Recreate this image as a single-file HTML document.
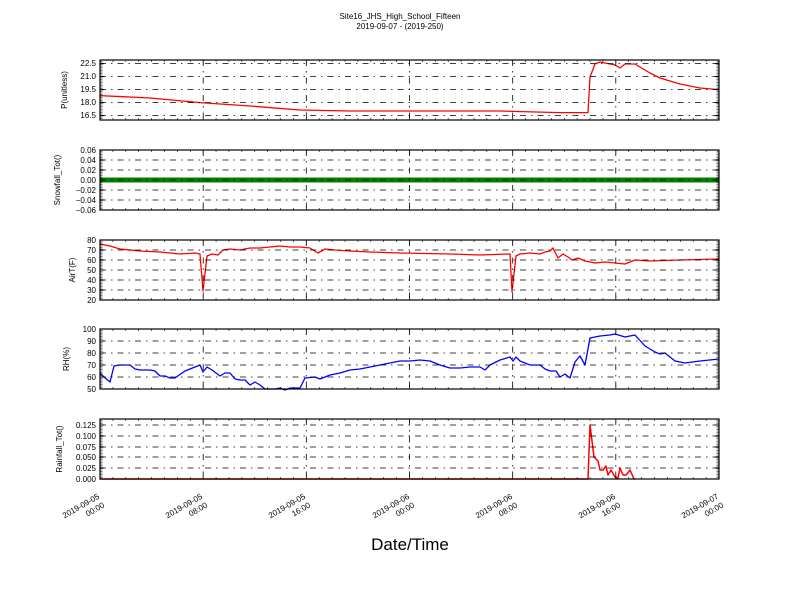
<!DOCTYPE html>
<html><head><meta charset="utf-8"><style>
html,body{margin:0;padding:0;background:#fff;}
svg{display:block;font-family:"Liberation Sans",sans-serif;}
</style></head><body>
<svg id="s" width="800" height="600" viewBox="0 0 800 600" xmlns="http://www.w3.org/2000/svg">
<rect width="800" height="600" fill="#fff"/>
<text x="400" y="19" font-size="8" text-anchor="middle">Site16_JHS_High_School_Fifteen</text>
<text x="400" y="29" font-size="8" text-anchor="middle">2019-09-07 - (2019-250)</text>
<g fill="none" stroke-width="1.3" stroke-linejoin="round">
<polyline stroke="#f00" points="100,95.6 150,98 200,102.6 250,106 300,110 350,111 400,111 500,111 560,112.6 588,112.6 590,77 595,64 600,62 615,65 620,68 625,64 635,64 650,73 660,78 680,84 700,88 719,89.6"/>
<line x1="100" y1="180" x2="719" y2="180" stroke="#007f00" stroke-width="5"/>
<polyline stroke="#f00" points="100,244 110,246 120,249 140,251 160,252 180,254 195,253 200,254 203,291 207,256 212,254 218,255 223,250 230,249 240,250 250,248 260,248 270,247 280,246 290,247 300,247 310,248 318,253 325,249 335,250 350,251 370,252 400,253 450,254 480,255 510,254 512,292 516,256 520,254 530,253 540,254 545,252 550,251 553,248 558,258 563,254 568,257 572,260 578,258 585,261 595,263 605,262 615,263 625,264 635,260 650,261 680,260 719,259"/>
<polyline stroke="#00f" points="100,373 104,377 110,382 114,366 120,365 130,365 135,369 140,370 150,370 155,371 160,376 165,376 170,378 175,378 185,371 195,367 200,365 203,372 207,367 212,370 220,376 225,373 230,373 235,379 240,380 245,380 250,385 255,382 260,385 265,389 275,389 280,388 285,390 290,388 300,388 305,378 315,377 320,379 330,375 340,373 350,370 360,369 370,367 380,365 390,363 400,361 410,361 420,360 430,361 440,365 450,368 460,368 470,367 480,367 485,370 490,365 500,360 510,357 513,361 516,357 520,361 530,365 540,365 545,369 550,371 556,371 560,377 565,374 570,378 575,362 580,356 585,365 590,338 600,336 610,335 615,334 625,337 635,335 645,346 655,352 660,354 665,353 675,361 685,363 700,361 719,359"/>
<polyline stroke="#f00" stroke-width="1.5" points="100,479 588,479 590,425 594,457 598,461 600,470 603,470 606,466 608,475 611,470 615,477 618,478 620,468 623,475 626,475 630,470 634,479 635,479"/>
</g>
<g id="grid"></g>
<g font-size="8" text-anchor="end">
<text x="96" y="66">22.5</text><text x="96" y="79">21.0</text><text x="96" y="92">19.5</text><text x="96" y="105">18.0</text><text x="96" y="118">16.5</text>
<text x="96" y="153">0.06</text><text x="96" y="163">0.04</text><text x="96" y="173">0.02</text><text x="96" y="183">0.00</text><text x="96" y="193">−0.02</text><text x="96" y="203">−0.04</text><text x="96" y="213">−0.06</text>
<text x="96" y="243">80</text><text x="96" y="253">70</text><text x="96" y="263">60</text><text x="96" y="273">50</text><text x="96" y="283">40</text><text x="96" y="293">30</text><text x="96" y="303">20</text>
<text x="96" y="332">100</text><text x="96" y="344">90</text><text x="96" y="356">80</text><text x="96" y="368">70</text><text x="96" y="380">60</text><text x="96" y="392">50</text>
<text x="96" y="428">0.125</text><text x="96" y="439">0.100</text><text x="96" y="450">0.075</text><text x="96" y="460">0.050</text><text x="96" y="471">0.025</text><text x="96" y="482">0.000</text>
</g>
<g font-size="8" text-anchor="middle">
<text transform="translate(67,90) rotate(-90)">P(unitless)</text>
<text transform="translate(60,180) rotate(-90)">Snowfall_Tot()</text>
<text transform="translate(75,270) rotate(-90)">AirT(F)</text>
<text transform="translate(69,359) rotate(-90)">RH(%)</text>
<text transform="translate(62,449) rotate(-90)">Rainfall_Tot()</text>
</g>
<g font-size="8" text-anchor="end">
<g transform="translate(100,498) rotate(-30)"><text x="0" y="0">2019-09-05</text><text x="0" y="10">00:00</text></g>
<g transform="translate(203,498) rotate(-30)"><text x="0" y="0">2019-09-05</text><text x="0" y="10">08:00</text></g>
<g transform="translate(306,498) rotate(-30)"><text x="0" y="0">2019-09-05</text><text x="0" y="10">16:00</text></g>
<g transform="translate(410,498) rotate(-30)"><text x="0" y="0">2019-09-06</text><text x="0" y="10">00:00</text></g>
<g transform="translate(513,498) rotate(-30)"><text x="0" y="0">2019-09-06</text><text x="0" y="10">08:00</text></g>
<g transform="translate(616,498) rotate(-30)"><text x="0" y="0">2019-09-06</text><text x="0" y="10">16:00</text></g>
<g transform="translate(719,498) rotate(-30)"><text x="0" y="0">2019-09-07</text><text x="0" y="10">00:00</text></g>
</g>
<text x="410" y="550" font-size="17" text-anchor="middle">Date/Time</text>
</svg>
<script>
(function(){
var g=document.getElementById('grid'),h='';
var panels=[[60,120,[63.6,76.6,89.6,102.6,115.6]],[150,210,[150,160,170,180,190,200,210]],[240,300,[240,250,260,270,280,290,300]],[329,389,[329,341,353,365,377,389]],[419,479,[425,436,447,457,468,479]]];
var X0=100,X1=719,majors=[100,203.2,306.3,409.5,512.7,615.8,719];
var da='6 5 1.5 5';
panels.forEach(function(p){
 var t=p[0],b=p[1];
 p[2].forEach(function(y){h+='<line x1="'+X0+'" x2="'+X1+'" y1="'+y+'" y2="'+y+'" stroke="#000" stroke-width="0.8" stroke-dasharray="'+da+'"/>';
  h+='<line x1="'+X0+'" x2="'+(X0+4)+'" y1="'+y+'" y2="'+y+'" stroke="#000"/><line x1="'+(X1-4)+'" x2="'+X1+'" y1="'+y+'" y2="'+y+'" stroke="#000"/>';});
 majors.forEach(function(x){h+='<line x1="'+x+'" x2="'+x+'" y1="'+t+'" y2="'+b+'" stroke="#000" stroke-width="0.8" stroke-dasharray="'+da+'"/>';});
 for(var i=0;i<=48;i++){var x=X0+i*(X1-X0)/48;var L=(i%8==0)?4:2;h+='<line x1="'+x+'" x2="'+x+'" y1="'+t+'" y2="'+(t+L)+'" stroke="#000" stroke-width="0.6"/><line x1="'+x+'" x2="'+x+'" y1="'+(b-L)+'" y2="'+b+'" stroke="#000" stroke-width="0.6"/>';}
 for(var y=t;y<=b;y+=1.5){h+='<line x1="'+X0+'" x2="'+(X0+2.5)+'" y1="'+y+'" y2="'+y+'" stroke="#000" stroke-width="0.5"/><line x1="'+(X1-2.5)+'" x2="'+X1+'" y1="'+y+'" y2="'+y+'" stroke="#000" stroke-width="0.5"/>';}
 h+='<rect x="'+X0+'" y="'+t+'" width="'+(X1-X0)+'" height="'+(b-t)+'" fill="none" stroke="#000" stroke-width="1.2"/>';
});
g.innerHTML=h;
})();
</script>
</body></html>
